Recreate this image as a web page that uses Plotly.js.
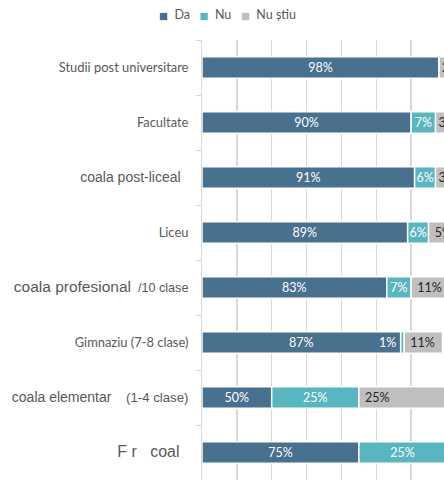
<!DOCTYPE html>
<html>
<head>
<meta charset="utf-8">
<script src="https://cdn.plot.ly/plotly-3.0.1.min.js"></script>
<style>
  html, body { margin: 0; padding: 0; overflow: hidden; background: #fff; }
  #chart { width: 448px; height: 480px; }
</style>
</head>
<body>
<div id="chart"></div>
<script>
// Education level labels, top to bottom (as they appear in the source picture)
const categories = [
  "Studii post universitare",
  "Facultate",
  "coala post-liceal",
  "Liceu",
  "coala profesional",
  "Gimnaziu (7-8 clase)",
  "coala elementar",
  "F r coal",
];
// second part of some labels, drawn smaller in the original
const labelTails = ["", "", "", "", "/10 clase", "", "(1-4 clase)", ""];
const da = [98, 90, 91, 89, 83, 87, 50, 75];
const nu = [0, 7, 6, 6, 7, 1, 25, 25];
const nuStiu = [2, 3, 3, 5, 11, 11, 25, 0];
const seriesNames = ["Da", "Nu", "Nu știu"];

const COLORS = ["#48708f", "#58b6c0", "#bfbfbf"];
const X_MIN = 30; // axis starts at 30%, bar labels sit in the visible part
const LABEL_FONT = "Lato, 'Open Sans', sans-serif";
const NB = "\u00a0";

const pct = (v) => (v ? `${v}%` : "");

// the Arial-looking labels of the original (missing glyphs left as gaps)
function arial(text, size) {
  return `<span style="font-family:'Liberation Sans';font-size:${size}px">${text}</span>`;
}
const ticktext = categories.map((c, i) => {
  switch (i) {
    case 2:
      return arial(c + NB + NB, 14);
    case 4:
      return arial(c, 15.5) + arial(NB + NB + labelTails[i], 12.6);
    case 6:
      return arial(c, 14) + arial(NB.repeat(4) + labelTails[i], 13.2);
    case 7: {
      const [f, r, coal] = c.split(" ");
      return arial(f + NB + r + NB.repeat(3) + coal + NB + NB, 16);
    }
    default:
      return c;
  }
});

const barLine = { color: "#ffffff", width: 1.5 };
const textCommon = {
  type: "bar",
  orientation: "h",
  y: categories,
  textposition: "inside",
  textangle: 0,
  constraintext: "none",
  cliponaxis: true,
  showlegend: false,
  hoverinfo: "none",
};

const traces = [
  {
    ...textCommon,
    name: seriesNames[0],
    base: da.map(() => X_MIN),
    x: da.map((v) => v - X_MIN),
    text: da.map(pct),
    insidetextanchor: "middle",
    textfont: { family: LABEL_FONT, size: 12.5, color: "#ffffff" },
    marker: { color: COLORS[0], line: barLine },
  },
  {
    ...textCommon,
    name: seriesNames[1],
    base: da,
    x: nu,
    // 1% is too thin, its label goes next to the bar (annotation below)
    text: nu.map((v) => (v > 1 ? pct(v) : "")),
    insidetextanchor: "middle",
    textfont: { family: LABEL_FONT, size: 12.5, color: "#ffffff" },
    marker: { color: COLORS[1], line: barLine },
  },
  {
    ...textCommon,
    name: seriesNames[2],
    base: da.map((v, i) => v + nu[i]),
    x: nuStiu,
    // wider segments get a bit more room before the label
    text: nuStiu.map((v) => (v >= 5 ? NB + pct(v) : pct(v))),
    insidetextanchor: "start",
    textfont: { family: LABEL_FONT, size: 12.5, color: "#262626" },
    marker: { color: COLORS[2], line: barLine },
  },
];

const annotations = [];
nu.forEach((v, i) => {
  if (v > 0 && v <= 1) {
    annotations.push({
      x: da[i],
      y: categories[i],
      xref: "x",
      yref: "y",
      text: pct(v),
      showarrow: false,
      xanchor: "right",
      xshift: -3,
      font: { family: LABEL_FONT, size: 12.5, color: "#ffffff" },
    });
  }
});

// compact legend like the original one (small squares, tight spacing)
const legendText = seriesNames
  .map(
    (n, i) =>
      `<span style="font-family:'DejaVu Sans';font-size:9.5px;color:${COLORS[i]}">■</span>${NB}${NB}${n}`
  )
  .join(NB.repeat(3));
annotations.push({
  xref: "paper",
  yref: "paper",
  x: 0.105,
  y: 1.057,
  xanchor: "center",
  yanchor: "middle",
  showarrow: false,
  text: legendText,
  font: { family: LABEL_FONT, size: 12.5, color: "#595959" },
});

const layout = {
  width: 448,
  height: 480,
  margin: { l: 202, r: 2, t: 40, b: 0 },
  paper_bgcolor: "#ffffff",
  plot_bgcolor: "#ffffff",
  barmode: "overlay",
  bargap: 0.61,
  showlegend: false,
  xaxis: {
    range: [X_MIN, 100],
    dtick: 10,
    showgrid: true,
    gridcolor: "#d9d9d9",
    gridwidth: 1.5,
    zeroline: false,
    showticklabels: false,
    fixedrange: true,
  },
  yaxis: {
    type: "category",
    autorange: "reversed",
    tickvals: categories,
    ticktext: ticktext,
    showline: true,
    linecolor: "#d9d9d9",
    linewidth: 1,
    ticks: "outside",
    tickson: "boundaries",
    ticklen: 5,
    tickcolor: "#d9d9d9",
    ticklabelstandoff: 10,
    tickfont: { family: LABEL_FONT, size: 12.9, color: "#595959" },
    fixedrange: true,
  },
  annotations,
};

Plotly.newPlot("chart", traces, layout, { staticPlot: true, displayModeBar: false });
</script>
</body>
</html>
